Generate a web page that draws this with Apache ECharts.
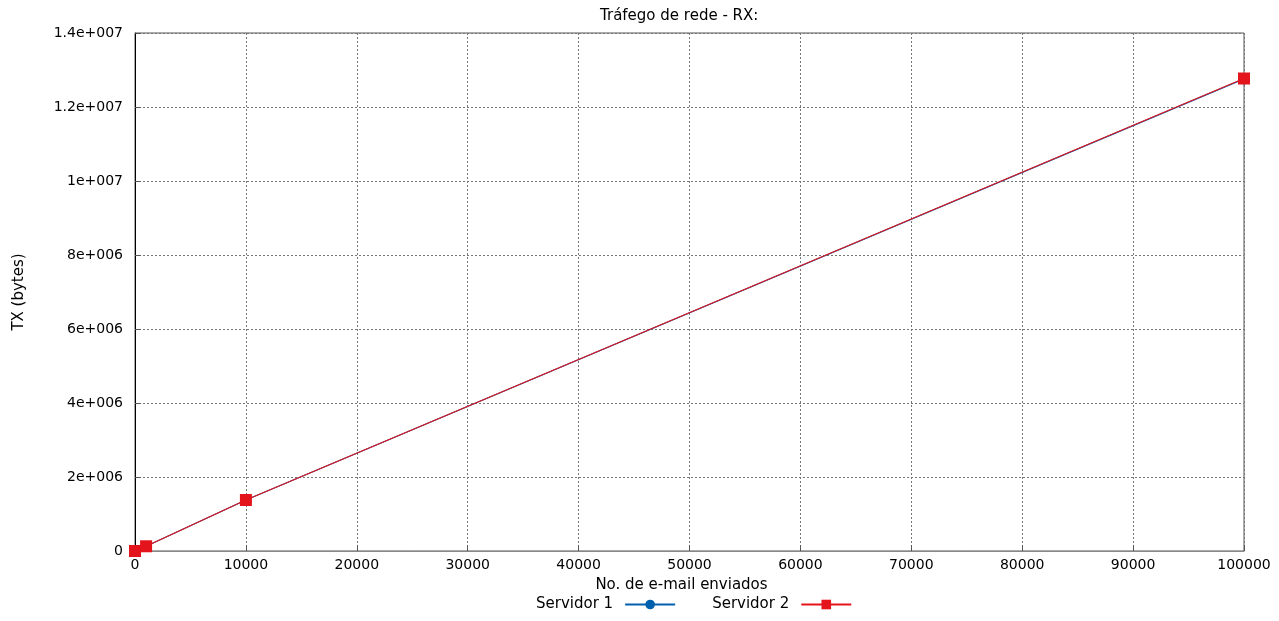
<!DOCTYPE html>
<html>
<head>
<meta charset="utf-8">
<script src="https://cdn.jsdelivr.net/npm/echarts@6/dist/echarts.min.js"></script>
<style>html,body{margin:0;padding:0;background:#fff}#c{width:1279px;height:621px}</style>
</head>
<body>
<div id="c"></div>
<script>
const emailsSent = [0, 1000, 10000, 100000];
const servidor1 = [0, 127500, 1378000, 12760000];
const servidor2 = [0, 127600, 1379000, 12770000];
const titleText = 'Tráfego de rede - RX:';
const xName = 'No. de e-mail enviados';
const yName = 'TX (bytes)';

function sci(v){
  if (v === 0) return '0';
  let e = Math.floor(Math.log10(Math.abs(v)) + 1e-9);
  let m = v / Math.pow(10, e);
  m = Math.round(m * 1000) / 1000;
  return m + 'e+' + String(e).padStart(3, '0');
}
const font = 'DejaVu Sans, sans-serif';
const chart = echarts.init(document.getElementById('c'));
chart.setOption({
  animation: false,
  title: { text: titleText, left: 595, top: 4, textStyle: { fontFamily: font, fontSize: 15, fontWeight: 'normal', color: '#000' } },
  grid: { left: 135, right: 35, top: 33, bottom: 70, show: true, borderColor: '#555', borderWidth: 1 },
  legend: {
    bottom: 4, left: 531, align: 'right', itemGap: 36, itemWidth: 50, itemHeight: 12,
    textStyle: { fontFamily: font, fontSize: 15, color: '#000', padding: [0, 7, 0, 0] },
    data: ['Servidor 1', 'Servidor 2']
  },
  xAxis: {
    type: 'value', min: 0, max: 100000, interval: 10000,
    name: xName, nameLocation: 'middle', nameGap: 27,
    nameTextStyle: { fontFamily: font, fontSize: 15, color: '#000', padding: [0, 16, 0, 0] },
    axisLine: { lineStyle: { color: '#888', width: 1 } },
    axisTick: { inside: true, length: 6, lineStyle: { color: '#555' } },
    axisLabel: { fontFamily: font, fontSize: 14, color: '#000', margin: 7, formatter: v => String(v) },
    splitLine: { show: true, lineStyle: { color: '#777', type: [2, 2], width: 1 } }
  },
  yAxis: {
    type: 'value', min: 0, max: 14000000, interval: 2000000,
    name: yName, nameLocation: 'middle', nameGap: 108, nameRotate: 90,
    nameTextStyle: { fontFamily: font, fontSize: 15, color: '#000' },
    axisLine: { show: true, lineStyle: { color: '#000', width: 1 } },
    axisTick: { show: true, inside: true, length: 6, lineStyle: { color: '#555' } },
    axisLabel: { fontFamily: font, fontSize: 14, color: '#000', margin: 12, formatter: sci },
    splitLine: { show: true, lineStyle: { color: '#777', type: [2, 2], width: 1 } }
  },
  series: [
    {
      name: 'Servidor 1', type: 'line',
      data: emailsSent.map((x, i) => [x, servidor1[i]]),
      symbol: 'circle', symbolSize: 11,
      lineStyle: { color: '#0060ad', width: 1.2 },
      itemStyle: { color: '#0060ad' }
    },
    {
      name: 'Servidor 2', type: 'line',
      data: emailsSent.map((x, i) => [x, servidor2[i]]),
      symbol: 'rect', symbolSize: 12,
      lineStyle: { color: '#e3141c', width: 1.2 },
      itemStyle: { color: '#e3141c' }
    }
  ]
});
</script>
</body>
</html>
